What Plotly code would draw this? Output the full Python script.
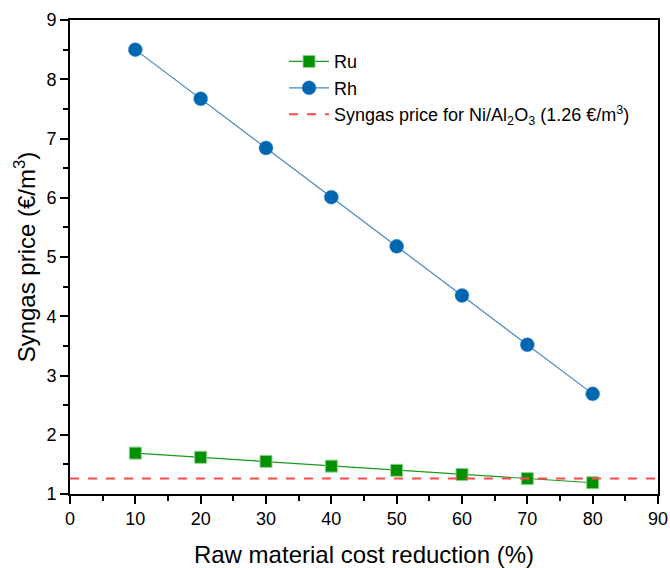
import plotly.graph_objects as go

# Raw material cost reduction (%)
reduction = [10, 20, 30, 40, 50, 60, 70, 80]
# Syngas price (€/m3) per catalyst
ru_price = [1.69, 1.62, 1.55, 1.47, 1.40, 1.33, 1.26, 1.19]
rh_price = [8.50, 7.67, 6.84, 6.01, 5.18, 4.35, 3.52, 2.69]
# Reference syngas price with Ni/Al2O3 catalyst
ni_price = 1.26
x_range = [0, 90]
y_range = [1, 9]

FONT = "Liberation Sans, Arial, sans-serif"

fig = go.Figure()

fig.add_trace(go.Scatter(
    x=reduction, y=ru_price, mode="lines+markers", name="Ru",
    line=dict(color="#1a9a1a", width=1.2),
    marker=dict(symbol="square", size=12, color="#009000",
                line=dict(color="#8fd08f", width=1)),
))
fig.add_trace(go.Scatter(
    x=reduction, y=rh_price, mode="lines+markers", name="Rh",
    line=dict(color="#3b88c8", width=1.2),
    marker=dict(symbol="circle", size=14, color="#0066b0",
                line=dict(color="#4a8fcc", width=0.5)),
))
fig.add_trace(go.Scatter(
    x=x_range, y=[ni_price, ni_price], mode="lines",
    name="Syngas price for Ni/Al<sub>2</sub>O<sub>3</sub> (1.26 €/m<sup>3</sup>)",
    line=dict(color="#ff4a4a", width=2, dash="dash"),
))

axis_common = dict(
    showline=True, linecolor="black", linewidth=1.6, mirror=True,
    showgrid=False, zeroline=False, automargin=False,
    ticks="outside", ticklen=8, tickwidth=1.6, tickcolor="black",
    tickfont=dict(family=FONT, size=18, color="black"),
    ticklabeloverflow="allow",
)

fig.update_xaxes(
    range=x_range, dtick=10, tick0=0,
    minor=dict(ticks="outside", dtick=5, ticklen=5, tickwidth=1.6, tickcolor="black"),
    title=dict(text="Raw material cost reduction (%)",
               font=dict(family=FONT, size=24, color="black"), standoff=20),
    **axis_common,
)
fig.update_yaxes(
    range=y_range, dtick=1, tick0=0,
    minor=dict(ticks="outside", dtick=0.5, ticklen=5, tickwidth=1.6, tickcolor="black"),
    title=dict(text="Syngas price (€/m<sup>3</sup>)",
               font=dict(family=FONT, size=24, color="black"), standoff=4),
    **axis_common,
)

fig.update_layout(
    width=670, height=568,
    margin=dict(l=70, r=12, t=20, b=74),
    paper_bgcolor="white", plot_bgcolor="white",
    showlegend=True,
    legend=dict(
        x=0.364, y=0.951, xanchor="left", yanchor="top",
        bgcolor="rgba(0,0,0,0)", borderwidth=0,
        font=dict(family=FONT, size=18, color="black"),
        itemwidth=40, tracegroupgap=0,
    ),
)

fig.write_html("out.html")
